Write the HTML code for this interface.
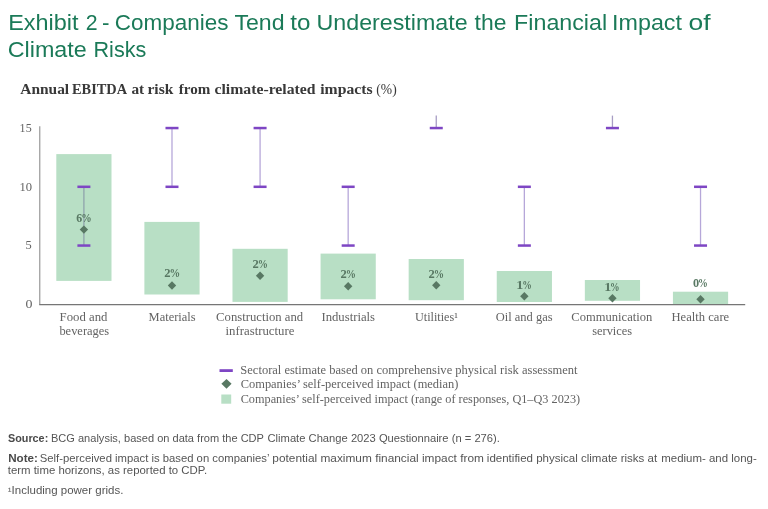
<!DOCTYPE html>
<html><head><meta charset="utf-8"><title>Exhibit 2 - Companies Tend to Underestimate the Financial Impact of Climate Risks</title>
<style>
html,body{margin:0;padding:0;background:#fff;}
body{width:768px;height:509px;overflow:hidden;position:relative;}
svg{position:absolute;left:0;top:0;display:block;will-change:transform;}
</style></head><body>
<svg width="768" height="509" viewBox="0 0 768 509">
<text x="8.18" y="29.6" font-family="'Liberation Sans', sans-serif" font-size="22.4" fill="#1b7a58" textLength="70.29" lengthAdjust="spacingAndGlyphs">Exhibit</text>
<text x="85.73" y="29.6" font-family="'Liberation Sans', sans-serif" font-size="22.4" fill="#1b7a58" textLength="11.84" lengthAdjust="spacingAndGlyphs">2</text>
<text x="102.10" y="29.6" font-family="'Liberation Sans', sans-serif" font-size="22.4" fill="#1b7a58" textLength="7.50" lengthAdjust="spacingAndGlyphs">-</text>
<text x="114.76" y="29.6" font-family="'Liberation Sans', sans-serif" font-size="22.4" fill="#1b7a58" textLength="113.65" lengthAdjust="spacingAndGlyphs">Companies</text>
<text x="234.41" y="29.6" font-family="'Liberation Sans', sans-serif" font-size="22.4" fill="#1b7a58" textLength="50.11" lengthAdjust="spacingAndGlyphs">Tend</text>
<text x="290.33" y="29.6" font-family="'Liberation Sans', sans-serif" font-size="22.4" fill="#1b7a58" textLength="20.18" lengthAdjust="spacingAndGlyphs">to</text>
<text x="316.51" y="29.6" font-family="'Liberation Sans', sans-serif" font-size="22.4" fill="#1b7a58" textLength="151.13" lengthAdjust="spacingAndGlyphs">Underestimate</text>
<text x="474.55" y="29.6" font-family="'Liberation Sans', sans-serif" font-size="22.4" fill="#1b7a58" textLength="31.87" lengthAdjust="spacingAndGlyphs">the</text>
<text x="514.09" y="29.6" font-family="'Liberation Sans', sans-serif" font-size="22.4" fill="#1b7a58" textLength="93.06" lengthAdjust="spacingAndGlyphs">Financial</text>
<text x="612.05" y="29.6" font-family="'Liberation Sans', sans-serif" font-size="22.4" fill="#1b7a58" textLength="69.92" lengthAdjust="spacingAndGlyphs">Impact</text>
<text x="688.49" y="29.6" font-family="'Liberation Sans', sans-serif" font-size="22.4" fill="#1b7a58" textLength="22.07" lengthAdjust="spacingAndGlyphs">of</text>
<text x="7.71" y="57.1" font-family="'Liberation Sans', sans-serif" font-size="22.4" fill="#1b7a58" textLength="79.12" lengthAdjust="spacingAndGlyphs">Climate</text>
<text x="93.53" y="57.1" font-family="'Liberation Sans', sans-serif" font-size="22.4" fill="#1b7a58" textLength="52.75" lengthAdjust="spacingAndGlyphs">Risks</text>
<text x="20.25" y="94.4" font-family="'Liberation Serif', serif" font-size="13.6" font-weight="700" fill="#383838" textLength="48.91" lengthAdjust="spacingAndGlyphs">Annual</text>
<text x="72.00" y="94.4" font-family="'Liberation Serif', serif" font-size="13.6" font-weight="700" fill="#383838" textLength="55.10" lengthAdjust="spacingAndGlyphs">EBITDA</text>
<text x="131.41" y="94.4" font-family="'Liberation Serif', serif" font-size="13.6" font-weight="700" fill="#383838" textLength="12.76" lengthAdjust="spacingAndGlyphs">at</text>
<text x="147.48" y="94.4" font-family="'Liberation Serif', serif" font-size="13.6" font-weight="700" fill="#383838" textLength="25.84" lengthAdjust="spacingAndGlyphs">risk</text>
<text x="178.79" y="94.4" font-family="'Liberation Serif', serif" font-size="13.6" font-weight="700" fill="#383838" textLength="31.57" lengthAdjust="spacingAndGlyphs">from</text>
<text x="214.46" y="94.4" font-family="'Liberation Serif', serif" font-size="13.6" font-weight="700" fill="#383838" textLength="101.11" lengthAdjust="spacingAndGlyphs">climate-related</text>
<text x="320.26" y="94.4" font-family="'Liberation Serif', serif" font-size="13.6" font-weight="700" fill="#383838" textLength="52.33" lengthAdjust="spacingAndGlyphs">impacts</text>
<text x="376.30" y="94.4" font-family="'Liberation Serif', serif" font-size="13.6" fill="#383838" textLength="20.40" lengthAdjust="spacingAndGlyphs">(%)</text>
<rect x="56.30" y="154.1" width="55.2" height="126.80" fill="#b8dfc5"/>
<rect x="144.39" y="221.9" width="55.2" height="72.60" fill="#b8dfc5"/>
<rect x="232.48" y="248.8" width="55.2" height="53.10" fill="#b8dfc5"/>
<rect x="320.57" y="253.6" width="55.2" height="45.70" fill="#b8dfc5"/>
<rect x="408.66" y="259.0" width="55.2" height="41.20" fill="#b8dfc5"/>
<rect x="496.75" y="271.0" width="55.2" height="31.00" fill="#b8dfc5"/>
<rect x="584.84" y="280.0" width="55.2" height="20.80" fill="#b8dfc5"/>
<rect x="672.93" y="291.7" width="55.2" height="12.30" fill="#b8dfc5"/>
<line x1="83.9" y1="186.80" x2="83.9" y2="245.55" stroke="#8fa3ab" stroke-width="1.3"/>
<rect x="77.4" y="185.55" width="13" height="2.5" fill="#7e46c4"/>
<rect x="77.4" y="244.30" width="13" height="2.5" fill="#7e46c4"/>
<line x1="171.99" y1="128.05" x2="171.99" y2="186.80" stroke="#b6a7d9" stroke-width="1.3"/>
<rect x="165.49" y="126.80" width="13" height="2.5" fill="#7e46c4"/>
<rect x="165.49" y="185.55" width="13" height="2.5" fill="#7e46c4"/>
<line x1="260.08" y1="128.05" x2="260.08" y2="186.80" stroke="#b6a7d9" stroke-width="1.3"/>
<rect x="253.57999999999998" y="126.80" width="13" height="2.5" fill="#7e46c4"/>
<rect x="253.57999999999998" y="185.55" width="13" height="2.5" fill="#7e46c4"/>
<line x1="348.17" y1="186.80" x2="348.17" y2="245.55" stroke="#b6a7d9" stroke-width="1.3"/>
<rect x="341.67" y="185.55" width="13" height="2.5" fill="#7e46c4"/>
<rect x="341.67" y="244.30" width="13" height="2.5" fill="#7e46c4"/>
<line x1="436.26" y1="115.6" x2="436.26" y2="128.05" stroke="#a79dc4" stroke-width="1.3"/>
<rect x="429.76" y="126.80" width="13" height="2.5" fill="#7e46c4"/>
<line x1="524.35" y1="186.80" x2="524.35" y2="245.55" stroke="#b6a7d9" stroke-width="1.3"/>
<rect x="517.85" y="185.55" width="13" height="2.5" fill="#7e46c4"/>
<rect x="517.85" y="244.30" width="13" height="2.5" fill="#7e46c4"/>
<line x1="612.44" y1="115.6" x2="612.44" y2="128.05" stroke="#a79dc4" stroke-width="1.3"/>
<rect x="605.94" y="126.80" width="13" height="2.5" fill="#7e46c4"/>
<line x1="700.53" y1="186.80" x2="700.53" y2="245.55" stroke="#b6a7d9" stroke-width="1.3"/>
<rect x="694.03" y="185.55" width="13" height="2.5" fill="#7e46c4"/>
<rect x="694.03" y="244.30" width="13" height="2.5" fill="#7e46c4"/>
<path d="M83.9 225.40L88.10000000000001 229.60L83.9 233.80L79.7 229.60Z" fill="#587863"/>
<path d="M171.99 281.30L176.19 285.50L171.99 289.70L167.79000000000002 285.50Z" fill="#587863"/>
<path d="M260.08 271.60L264.28 275.80L260.08 280.00L255.88 275.80Z" fill="#587863"/>
<path d="M348.17 282.00L352.37 286.20L348.17 290.40L343.97 286.20Z" fill="#587863"/>
<path d="M436.26 281.10L440.46 285.30L436.26 289.50L432.06 285.30Z" fill="#587863"/>
<path d="M524.35 292.10L528.5500000000001 296.30L524.35 300.50L520.15 296.30Z" fill="#587863"/>
<path d="M612.44 294.00L616.6400000000001 298.20L612.44 302.40L608.24 298.20Z" fill="#587863"/>
<path d="M700.53 295.10L704.73 299.30L700.53 303.50L696.3299999999999 299.30Z" fill="#587863"/>
<text x="76.29" y="221.7" font-family="'Liberation Serif', serif" font-size="11.5" font-weight="700" fill="#587863" textLength="5.96" lengthAdjust="spacingAndGlyphs">6</text>
<text x="81.33" y="221.7" font-family="'Liberation Serif', serif" font-size="11.5" font-weight="700" fill="#587863" textLength="10.45" lengthAdjust="spacingAndGlyphs">%</text>
<text x="164.37" y="277.2" font-family="'Liberation Serif', serif" font-size="11.5" font-weight="700" fill="#587863" textLength="6.26" lengthAdjust="spacingAndGlyphs">2</text>
<text x="169.50" y="277.2" font-family="'Liberation Serif', serif" font-size="11.5" font-weight="700" fill="#587863" textLength="10.70" lengthAdjust="spacingAndGlyphs">%</text>
<text x="252.47" y="267.5" font-family="'Liberation Serif', serif" font-size="11.5" font-weight="700" fill="#587863" textLength="6.26" lengthAdjust="spacingAndGlyphs">2</text>
<text x="257.65" y="267.5" font-family="'Liberation Serif', serif" font-size="11.5" font-weight="700" fill="#587863" textLength="10.20" lengthAdjust="spacingAndGlyphs">%</text>
<text x="340.47" y="278.2" font-family="'Liberation Serif', serif" font-size="11.5" font-weight="700" fill="#587863" textLength="6.26" lengthAdjust="spacingAndGlyphs">2</text>
<text x="345.65" y="278.2" font-family="'Liberation Serif', serif" font-size="11.5" font-weight="700" fill="#587863" textLength="10.20" lengthAdjust="spacingAndGlyphs">%</text>
<text x="428.47" y="277.5" font-family="'Liberation Serif', serif" font-size="11.5" font-weight="700" fill="#587863" textLength="6.26" lengthAdjust="spacingAndGlyphs">2</text>
<text x="433.64" y="277.5" font-family="'Liberation Serif', serif" font-size="11.5" font-weight="700" fill="#587863" textLength="10.33" lengthAdjust="spacingAndGlyphs">%</text>
<text x="516.37" y="288.5" font-family="'Liberation Serif', serif" font-size="11.5" font-weight="700" fill="#587863" textLength="7.06" lengthAdjust="spacingAndGlyphs">1</text>
<text x="522.22" y="288.5" font-family="'Liberation Serif', serif" font-size="11.5" font-weight="700" fill="#587863" textLength="9.58" lengthAdjust="spacingAndGlyphs">%</text>
<text x="604.17" y="291.0" font-family="'Liberation Serif', serif" font-size="11.5" font-weight="700" fill="#587863" textLength="7.06" lengthAdjust="spacingAndGlyphs">1</text>
<text x="610.02" y="291.0" font-family="'Liberation Serif', serif" font-size="11.5" font-weight="700" fill="#587863" textLength="9.58" lengthAdjust="spacingAndGlyphs">%</text>
<text x="692.93" y="287.2" font-family="'Liberation Serif', serif" font-size="11.5" font-weight="700" fill="#587863" textLength="6.13" lengthAdjust="spacingAndGlyphs">0</text>
<text x="698.09" y="287.2" font-family="'Liberation Serif', serif" font-size="11.5" font-weight="700" fill="#587863" textLength="9.83" lengthAdjust="spacingAndGlyphs">%</text>
<line x1="39.75" y1="126.3" x2="39.75" y2="304.5" stroke="#9c9c9c" stroke-width="1.25"/>
<line x1="39.2" y1="304.5" x2="745.2" y2="304.5" stroke="#767676" stroke-width="1.25"/>
<text x="25.47" y="308.0" font-family="'Liberation Serif', serif" font-size="11.5" fill="#636363" textLength="6.96" lengthAdjust="spacingAndGlyphs">0</text>
<text x="25.48" y="249.25" font-family="'Liberation Serif', serif" font-size="11.5" fill="#636363" textLength="6.21" lengthAdjust="spacingAndGlyphs">5</text>
<text x="19.59" y="190.5" font-family="'Liberation Serif', serif" font-size="11.5" fill="#636363" textLength="12.59" lengthAdjust="spacingAndGlyphs">10</text>
<text x="19.64" y="131.75" font-family="'Liberation Serif', serif" font-size="11.5" fill="#636363" textLength="12.03" lengthAdjust="spacingAndGlyphs">15</text>
<text x="59.63" y="320.8" font-family="'Liberation Serif', serif" font-size="12.2" fill="#636363" textLength="47.82" lengthAdjust="spacingAndGlyphs">Food and</text>
<text x="59.40" y="334.6" font-family="'Liberation Serif', serif" font-size="12.2" fill="#636363" textLength="49.80" lengthAdjust="spacingAndGlyphs">beverages</text>
<text x="148.64" y="320.8" font-family="'Liberation Serif', serif" font-size="12.2" fill="#636363" textLength="47.01" lengthAdjust="spacingAndGlyphs">Materials</text>
<text x="216.08" y="320.8" font-family="'Liberation Serif', serif" font-size="12.2" fill="#636363" textLength="87.08" lengthAdjust="spacingAndGlyphs">Construction and</text>
<text x="225.53" y="334.6" font-family="'Liberation Serif', serif" font-size="12.2" fill="#636363" textLength="68.91" lengthAdjust="spacingAndGlyphs">infrastructure</text>
<text x="321.44" y="320.8" font-family="'Liberation Serif', serif" font-size="12.2" fill="#636363" textLength="53.62" lengthAdjust="spacingAndGlyphs">Industrials</text>
<text x="414.94" y="320.8" font-family="'Liberation Serif', serif" font-size="12.2" fill="#636363" textLength="42.99" lengthAdjust="spacingAndGlyphs">Utilities¹</text>
<text x="495.74" y="320.8" font-family="'Liberation Serif', serif" font-size="12.2" fill="#636363" textLength="56.81" lengthAdjust="spacingAndGlyphs">Oil and gas</text>
<text x="571.39" y="320.8" font-family="'Liberation Serif', serif" font-size="12.2" fill="#636363" textLength="80.91" lengthAdjust="spacingAndGlyphs">Communication</text>
<text x="592.19" y="334.6" font-family="'Liberation Serif', serif" font-size="12.2" fill="#636363" textLength="39.96" lengthAdjust="spacingAndGlyphs">services</text>
<text x="671.54" y="320.8" font-family="'Liberation Serif', serif" font-size="12.2" fill="#636363" textLength="57.65" lengthAdjust="spacingAndGlyphs">Health care</text>
<rect x="219.5" y="369.2" width="13.3" height="2.8" fill="#7e46c4"/>
<path d="M226.5 378.9L231.6 383.8L226.5 388.7L221.4 383.8Z" fill="#587863"/>
<rect x="221.3" y="394.5" width="9.9" height="9.2" fill="#b8dfc5"/>
<text x="240.36" y="373.7" font-family="'Liberation Serif', serif" font-size="12.3" fill="#636363" textLength="337.21" lengthAdjust="spacingAndGlyphs">Sectoral estimate based on comprehensive physical risk assessment</text>
<text x="240.69" y="387.8" font-family="'Liberation Serif', serif" font-size="12.3" fill="#636363" textLength="217.75" lengthAdjust="spacingAndGlyphs">Companies’ self-perceived impact (median)</text>
<text x="240.70" y="402.8" font-family="'Liberation Serif', serif" font-size="12.3" fill="#636363" textLength="339.44" lengthAdjust="spacingAndGlyphs">Companies’ self-perceived impact (range of responses, Q1–Q3 2023)</text>
<text x="7.99" y="441.6" font-family="'Liberation Sans', sans-serif" font-size="10.2" font-weight="700" fill="#4a4a4a" textLength="40.25" lengthAdjust="spacingAndGlyphs">Source:</text>
<text x="50.99" y="441.6" font-family="'Liberation Sans', sans-serif" font-size="10.2" fill="#555" textLength="212.99" lengthAdjust="spacingAndGlyphs">BCG analysis, based on data from the CDP</text>
<text x="267.53" y="441.6" font-family="'Liberation Sans', sans-serif" font-size="10.2" fill="#555" textLength="232.39" lengthAdjust="spacingAndGlyphs">Climate Change 2023 Questionnaire (n = 276).</text>
<text x="8.22" y="461.5" font-family="'Liberation Sans', sans-serif" font-size="10.2" font-weight="700" fill="#4a4a4a" textLength="29.70" lengthAdjust="spacingAndGlyphs">Note:</text>
<text x="39.74" y="461.5" font-family="'Liberation Sans', sans-serif" font-size="10.2" fill="#555" textLength="229.71" lengthAdjust="spacingAndGlyphs">Self-perceived impact is based on companies’</text>
<text x="272.34" y="461.5" font-family="'Liberation Sans', sans-serif" font-size="10.2" fill="#555" textLength="211.55" lengthAdjust="spacingAndGlyphs">potential maximum financial impact from</text>
<text x="486.83" y="461.5" font-family="'Liberation Sans', sans-serif" font-size="10.2" fill="#555" textLength="170.36" lengthAdjust="spacingAndGlyphs">identified physical climate risks at</text>
<text x="661.24" y="461.5" font-family="'Liberation Sans', sans-serif" font-size="10.2" fill="#555" textLength="95.47" lengthAdjust="spacingAndGlyphs">medium- and long-</text>
<text x="7.73" y="473.8" font-family="'Liberation Sans', sans-serif" font-size="10.2" fill="#555" textLength="199.40" lengthAdjust="spacingAndGlyphs">term time horizons, as reported to CDP.</text>
<text x="7.80" y="493.7" font-family="'Liberation Sans', sans-serif" font-size="10.2" fill="#555" textLength="115.55" lengthAdjust="spacingAndGlyphs">¹Including power grids.</text>
</svg>
</body></html>
